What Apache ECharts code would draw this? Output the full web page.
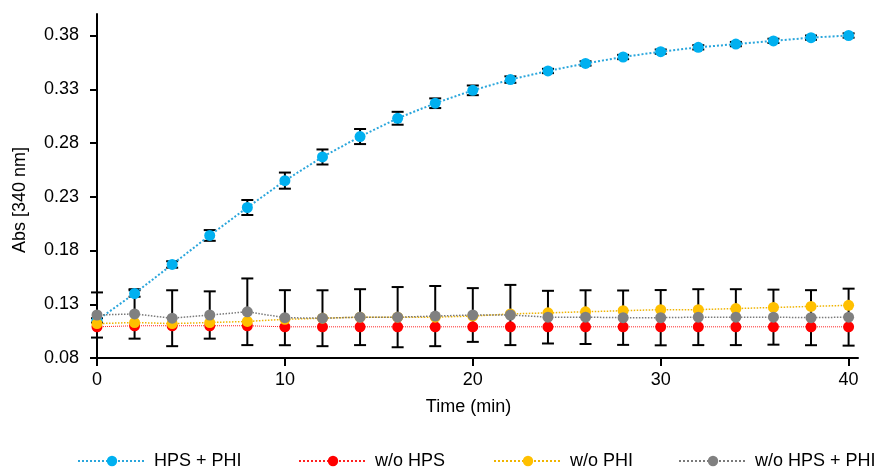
<!DOCTYPE html>
<html>
<head>
<meta charset="utf-8">
<script src="https://cdn.jsdelivr.net/npm/echarts@6/dist/echarts.min.js"></script>
<style>
  html, body { margin: 0; padding: 0; background: #fff; }
  #chart { width: 880px; height: 473px; }
</style>
</head>
<body>
<div id="chart"></div>
<script>
// time points (min)
const time = [0, 2, 4, 6, 8, 10, 12, 14, 16, 18, 20, 22, 24, 26, 28, 30, 32, 34, 36, 38, 40];

// Abs [340 nm] per series
const hpsPhi = [0.115, 0.140, 0.167, 0.194, 0.220, 0.245, 0.267, 0.286, 0.303, 0.317, 0.329, 0.339, 0.347, 0.354, 0.360, 0.365, 0.369, 0.372, 0.375, 0.378, 0.380];
const woHps = [0.109, 0.110, 0.110, 0.110, 0.110, 0.109, 0.109, 0.109, 0.109, 0.109, 0.109, 0.109, 0.109, 0.109, 0.109, 0.109, 0.109, 0.109, 0.109, 0.109, 0.109];
const woPhi = [0.112, 0.113, 0.112, 0.113, 0.114, 0.116, 0.117, 0.118, 0.118, 0.118, 0.119, 0.121, 0.122, 0.123, 0.124, 0.125, 0.125, 0.126, 0.127, 0.128, 0.129];
const woHpsPhi = [0.120, 0.121, 0.117, 0.120, 0.123, 0.1175, 0.117, 0.118, 0.118, 0.119, 0.120, 0.120, 0.118, 0.118, 0.1175, 0.1175, 0.118, 0.118, 0.118, 0.1175, 0.118];

// error bars (+/-)
const hpsPhiErr = [0.002, 0.003, 0.003, 0.005, 0.007, 0.0075, 0.007, 0.007, 0.006, 0.0045, 0.0045, 0.003, 0.002, 0.002, 0.002, 0.002, 0.002, 0.002, 0.002, 0.002, 0.002];
const woHpsPhiErr = [0.021, 0.023, 0.026, 0.022, 0.031, 0.0256, 0.026, 0.026, 0.028, 0.028, 0.025, 0.028, 0.0245, 0.025, 0.0253, 0.0257, 0.026, 0.026, 0.0256, 0.0256, 0.0265];

const xTicks = [0, 10, 20, 30, 40];
const yTicks = [0.08, 0.13, 0.18, 0.23, 0.28, 0.33, 0.38];

const font = "'Liberation Sans', Arial, sans-serif";

function pairs(vals) {
  return time.map((t, i) => [t, vals[i]]);
}
function bars(vals, errs) {
  return time.map((t, i) => [t, vals[i] - errs[i], vals[i] + errs[i]]);
}

// error bar: vertical line + two caps
function renderErr(params, api) {
  const x = api.value(0);
  const lo = api.coord([x, api.value(1)]);
  const hi = api.coord([x, api.value(2)]);
  const w = 6;
  const style = { stroke: '#000', lineWidth: 2 };
  return {
    type: 'group',
    children: [
      { type: 'line', shape: { x1: hi[0], y1: hi[1], x2: lo[0], y2: lo[1] }, style: style },
      { type: 'line', shape: { x1: hi[0] - w, y1: hi[1], x2: hi[0] + w, y2: hi[1] }, style: style },
      { type: 'line', shape: { x1: lo[0] - w, y1: lo[1], x2: lo[0] + w, y2: lo[1] }, style: style }
    ]
  };
}

const names = ['HPS + PHI', 'w/o HPS', 'w/o PHI', 'w/o HPS + PHI'];
const legendLeft = [72, 293, 488, 673];

const chart = echarts.init(document.getElementById('chart'));

chart.setOption({
  animation: false,
  textStyle: { fontFamily: font },
  grid: { left: 97, right: 22, top: 14, bottom: 115 },
  legend: names.map((n, i) => ({
    data: [n],
    left: legendLeft[i],
    top: 447,
    itemWidth: 68,
    itemHeight: 13,
    itemGap: 0,
    textStyle: { fontSize: 18, color: '#000', fontFamily: font, padding: [0, 0, 0, 3] }
  })),
  xAxis: {
    type: 'value',
    min: 0,
    max: 40.5,
    name: 'Time (min)',
    nameLocation: 'middle',
    nameGap: 40,
    nameTextStyle: { fontSize: 18, color: '#000', padding: [0, 18, 0, 0] },
    axisLine: { lineStyle: { color: '#000', width: 2 } },
    axisTick: { customValues: xTicks, length: 8, lineStyle: { color: '#000', width: 2 } },
    axisLabel: { customValues: xTicks, fontSize: 18, color: '#000', margin: 13 },
    splitLine: { show: false }
  },
  yAxis: {
    type: 'value',
    min: 0.08,
    max: 0.40,
    name: 'Abs [340 nm]',
    nameLocation: 'middle',
    nameGap: 68,
    nameTextStyle: { fontSize: 18, color: '#000', padding: [0, 28, 0, 0] },
    axisLine: { show: true, lineStyle: { color: '#000', width: 2 } },
    axisTick: { show: true, customValues: yTicks, length: 7, lineStyle: { color: '#000', width: 2 } },
    axisLabel: { customValues: yTicks, fontSize: 18, color: '#000', margin: 18,
      formatter: v => v.toFixed(2) },
    splitLine: { show: false }
  },
  series: [
    {
      type: 'custom', name: 'errHpsPhi', renderItem: renderErr, z: 1,
      data: bars(hpsPhi, hpsPhiErr), silent: true
    },
    {
      type: 'custom', name: 'errWoHpsPhi', renderItem: renderErr, z: 1,
      data: bars(woHpsPhi, woHpsPhiErr), silent: true
    },
    {
      name: names[0], type: 'line', data: pairs(hpsPhi), z: 3,
      symbol: 'circle', symbolSize: 11,
      itemStyle: { color: '#00b0f0' },
      lineStyle: { color: '#2aa6dc', width: 2, type: 'dotted' }
    },
    {
      name: names[1], type: 'line', data: pairs(woHps), z: 4,
      symbol: 'circle', symbolSize: 11,
      itemStyle: { color: '#ff0000' },
      lineStyle: { color: '#ff2020', width: 1, type: 'dotted' }
    },
    {
      name: names[2], type: 'line', data: pairs(woPhi), z: 5,
      symbol: 'circle', symbolSize: 11,
      itemStyle: { color: '#ffc000' },
      lineStyle: { color: '#f0b400', width: 1.5, type: 'dotted' }
    },
    {
      name: names[3], type: 'line', data: pairs(woHpsPhi), z: 6,
      symbol: 'circle', symbolSize: 11,
      itemStyle: { color: '#808080' },
      lineStyle: { color: '#7a7a7a', width: 1.5, type: 'dotted' }
    }
  ]
});
</script>
</body>
</html>
